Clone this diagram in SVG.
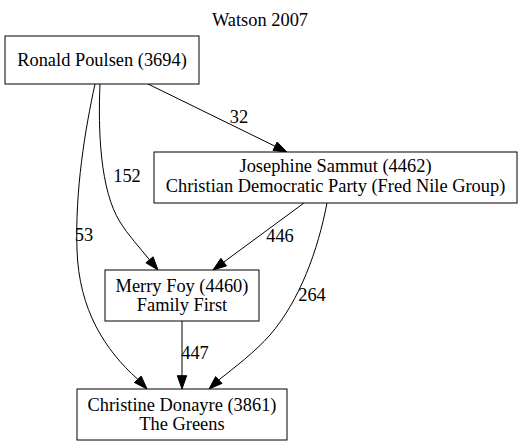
<svg xmlns="http://www.w3.org/2000/svg" width="522" height="445" viewBox="0 0 522 445">
<style>
.n rect{fill:#fff;stroke:#000;stroke-width:1}
.e path{fill:none;stroke:#000;stroke-width:1}
.h polygon{fill:#000;stroke:#000;stroke-width:1}
</style>
<rect width="522" height="445" fill="#fff"/>
<g font-family="Liberation Serif, Times New Roman, DejaVu Serif, serif" font-size="18.4" text-anchor="middle" fill="#000">
<text x="260" y="26">Watson 2007</text>
<g id="edges">
<g class="e">
<path d="M148,84 L275,146.2"/>
<path d="M100,84 C98,130 100,190 120,222 C128,235 140,248 149.5,259.8"/>
<path d="M95,84 C85,130 75,190 77,250 C79,310 105,350 137.8,379.3"/>
<path d="M304,203 L223.7,262.1"/>
<path d="M327,203 C318,250 300,300 270,335 C255,352 235,367 218.8,380"/>
<path d="M182,321 L182,375.7"/>
</g>
<g class="h">
<polygon points="273,150.4 287,152 277.1,142"/>
<polygon points="145.9,262.8 158,270 153.1,256.8"/>
<polygon points="134.4,382.5 147,389 141.2,376.1"/>
<polygon points="220.9,258.3 213,270 226.5,265.9"/>
<polygon points="215.6,376.6 209,389 222,383.4"/>
<polygon points="177.3,375.7 182,389 186.7,375.7"/>
</g>
</g>
<g id="edge-labels">
<text x="239" y="123">32</text>
<text x="127" y="182">152</text>
<text x="84" y="241">53</text>
<text x="280" y="242">446</text>
<text x="312" y="301">264</text>
<text x="195" y="359">447</text>
</g>
<g id="ronald" class="n">
<rect x="5" y="36" width="194" height="48"/>
<text x="102" y="66">Ronald Poulsen (3694)</text>
</g>
<g id="josephine" class="n">
<rect x="154" y="152" width="363" height="51"/>
<text x="335.5" y="172">Josephine Sammut (4462)</text>
<text x="335.5" y="192">Christian Democratic Party (Fred Nile Group)</text>
</g>
<g id="merry" class="n">
<rect x="105" y="270" width="154" height="51"/>
<text x="182" y="292">Merry Foy (4460)</text>
<text x="182" y="311">Family First</text>
</g>
<g id="christine" class="n">
<rect x="77" y="389" width="210" height="51"/>
<text x="182" y="411">Christine Donayre (3861)</text>
<text x="182" y="430">The Greens</text>
</g>
</g>
</svg>
